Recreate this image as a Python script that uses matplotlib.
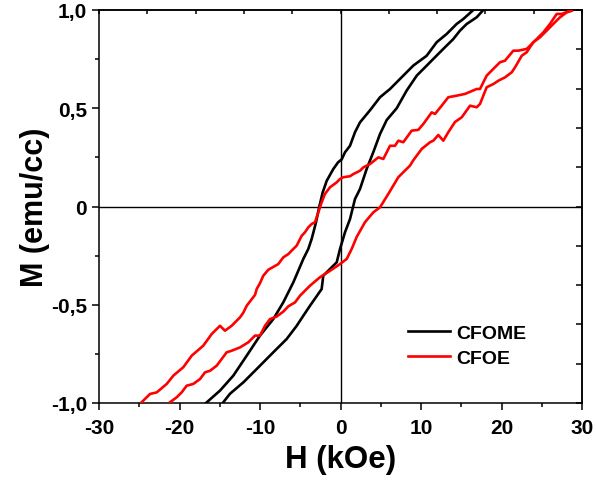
import numpy as np
import matplotlib
matplotlib.use("Agg")
import matplotlib.pyplot as plt
from matplotlib.ticker import MultipleLocator

plt.rcParams['font.family'] = ['Liberation Sans', 'DejaVu Sans']
plt.rcParams['font.weight'] = 'bold'
plt.rcParams['axes.unicode_minus'] = False

# ---- data: CFOME (black) ----
cfome_down_H = [16.50, 15.25, 14.43, 13.19, 11.95, 10.70, 9.04, 7.80, 6.15, 4.91, 3.67, 2.42, 1.80,
                1.18, 0.56, 0.15, -0.30, -0.89, -1.71, -2.21, -2.63, -3.04, -3.58, -4.00, -4.62,
                -5.86, -7.11, -8.35, -10.00, -11.65, -13.32, -14.97, -16.71]
cfome_down_M = [1.000, 0.954, 0.929, 0.878, 0.836, 0.767, 0.717, 0.666, 0.598, 0.556, 0.490, 0.428, 0.378,
                0.309, 0.276, 0.240, 0.225, 0.191, 0.131, 0.072, 0.000, -0.080, -0.165, -0.216, -0.267,
                -0.386, -0.488, -0.573, -0.657, -0.759, -0.861, -0.937, -1.000]
cfome_up_H = [-14.63, -13.73, -12.07, -10.41, -8.35, -6.68, -5.44, -4.62, -3.79, -2.34, -2.14, -0.47,
              -0.06, 0.56, 1.18, 1.80, 2.42, 3.25, 4.07, 4.91, 5.74, 6.98, 8.22, 9.47, 10.71, 11.53,
              12.77, 14.01, 14.84, 15.68, 16.92, 17.74]
cfome_up_M = [-1.000, -0.953, -0.895, -0.827, -0.742, -0.674, -0.607, -0.556, -0.505, -0.420, -0.352, -0.284,
              -0.216, -0.131, -0.064, 0.038, 0.089, 0.191, 0.276, 0.369, 0.440, 0.500, 0.590, 0.666, 0.717, 0.751,
              0.802, 0.852, 0.895, 0.929, 0.963, 1.000]

# ---- data: CFOE (red) ----
cfoe_down_H = [28.51, 27.48, 26.86, 26.02, 25.19, 24.37, 23.13, 22.09, 21.47, 20.43, 19.81, 18.98, 18.16,
               17.33, 16.92, 15.47, 14.43, 13.39, 12.57, 11.74, 11.33, 10.29, 9.66, 8.84, 7.80, 7.18,
               6.77, 6.15, 5.32, 4.70, 3.66, 2.83, 2.42, 1.59, 1.18, 0.35, -0.06, -0.47, -1.30, -1.93,
               -2.34, -2.76, -3.17, -3.58, -4.00, -4.41, -4.82, -5.44, -5.86, -6.48, -7.11, -7.73,
               -8.97, -9.59, -10.00, -10.41, -10.62, -11.65, -12.07, -12.48, -13.52, -14.35, -14.97,
               -16.00, -17.04, -18.48, -19.53, -20.77, -21.59, -22.83, -23.66, -24.70]
cfoe_down_M = [0.996, 0.980, 0.980, 0.929, 0.886, 0.852, 0.802, 0.793, 0.793, 0.742, 0.734, 0.700, 0.666,
               0.598, 0.598, 0.573, 0.564, 0.556, 0.513, 0.471, 0.479, 0.420, 0.390, 0.386, 0.327, 0.335,
               0.309, 0.309, 0.242, 0.250, 0.216, 0.199, 0.182, 0.165, 0.154, 0.149, 0.140, 0.123, 0.098, 0.064,
               0.021, -0.030, -0.080, -0.089, -0.106, -0.131, -0.149, -0.199, -0.216, -0.242, -0.259, -0.293,
               -0.322, -0.352, -0.390, -0.420, -0.450, -0.505, -0.540, -0.564, -0.607, -0.632, -0.607,
               -0.649, -0.708, -0.759, -0.818, -0.861, -0.903, -0.946, -0.954, -0.996]
cfoe_up_H = [-21.18, -20.35, -19.73, -19.11, -18.29, -17.45, -16.83, -16.21, -15.38, -14.76, -14.14,
             -13.52, -12.48, -11.45, -10.62, -10.00, -9.38, -8.76, -7.93, -7.11, -6.48, -5.65, -5.03,
             -3.79, -2.55, -1.30, -0.06, 0.77, 1.39, 2.01, 3.04, 4.07, 4.91, 5.94, 7.18, 8.63, 9.04,
             10.09, 11.12, 11.53, 12.15, 12.77, 13.39, 14.22, 15.06, 16.09, 16.92, 17.33, 18.16, 18.98,
             19.60, 20.43, 21.27, 21.68, 22.51, 23.13, 23.95, 24.78, 25.61, 26.43, 27.27, 28.10, 28.72]
cfoe_up_M = [-0.996, -0.971, -0.946, -0.912, -0.903, -0.878, -0.844, -0.836, -0.810, -0.776, -0.742,
             -0.734, -0.717, -0.691, -0.657, -0.657, -0.607, -0.573, -0.560, -0.535, -0.508, -0.488, -0.454,
             -0.403, -0.360, -0.327, -0.293, -0.267, -0.216, -0.155, -0.080, -0.030, -0.004, 0.064, 0.149, 0.208, 0.235,
             0.293, 0.327, 0.335, 0.364, 0.335, 0.378, 0.430, 0.454, 0.513, 0.505, 0.522, 0.607, 0.623,
             0.640, 0.657, 0.683, 0.708, 0.767, 0.785, 0.836, 0.861, 0.895, 0.929, 0.963, 0.988, 0.996]

x_ticks = [-30, -20, -10, 0, 10, 20, 30]
x_tick_labels = ['-30', '-20', '-10', '0', '10', '20', '30']
y_ticks = [-1.0, -0.5, 0.0, 0.5, 1.0]
y_tick_labels = ['-1,0', '-0,5', '0', '0,5', '1,0']
series_labels = ['CFOME', 'CFOE']
series_colors = ['#000000', '#ff0000']

fig = plt.figure(figsize=(5.96, 4.81), dpi=100)
ax = fig.add_axes([99/596, 1-404/481, (582-99)/596, (404-11)/481])

ax.axhline(0, color='k', lw=1.0, zorder=1)
ax.axvline(0, color='k', lw=1.0, zorder=1)

lw = 1.9
ax.plot(cfome_down_H, cfome_down_M, color=series_colors[0], lw=lw, zorder=3, label=series_labels[0])
ax.plot(cfome_up_H, cfome_up_M, color=series_colors[0], lw=lw, zorder=3)
ax.plot(cfoe_down_H, cfoe_down_M, color=series_colors[1], lw=lw, zorder=3, label=series_labels[1])
ax.plot(cfoe_up_H, cfoe_up_M, color=series_colors[1], lw=lw, zorder=3)

ax.set_xlim(-30, 30)
ax.set_ylim(-1, 1)
ax.set_xticks(x_ticks)
ax.set_xticklabels(x_tick_labels)
ax.set_yticks(y_ticks)
ax.set_yticklabels(y_tick_labels)
ax.xaxis.set_minor_locator(MultipleLocator(5))
ax.yaxis.set_minor_locator(MultipleLocator(0.25))
ax.tick_params(which='both', direction='out', width=1.1, top=False, right=False,
               labelsize=15)
ax.tick_params(which='major', length=5)
ax.tick_params(which='minor', length=3)
ax.tick_params(axis='x', pad=6)
ax.tick_params(axis='y', pad=3.5)
for s in ax.spines.values():
    s.set_linewidth(1.1)

secx = ax.secondary_xaxis('top')
secx.set_xticks(np.arange(-30, 31, 6))
secx.tick_params(direction='in', length=3, width=1.1, labeltop=False)
secx.spines['top'].set_linewidth(1.1)
secy = ax.secondary_yaxis('right')
secy.set_yticks(np.arange(-1, 1.01, 0.2))
secy.tick_params(direction='in', length=4, width=1.1, labelright=False)
secy.spines['right'].set_linewidth(1.1)

ax.set_xlabel('H (kOe)', fontsize=22.5, fontweight='bold', labelpad=5)
ax.set_ylabel('M (emu/cc)', fontsize=22, fontweight='bold', labelpad=1)

leg = ax.legend(loc='center left', bbox_to_anchor=(0.640, 0.147), frameon=False,
                fontsize=14, handlelength=2.16, handletextpad=0.3, labelspacing=0.38,
                borderpad=0, borderaxespad=0)
for t in leg.get_texts():
    t.set_fontweight('bold')

fig.savefig('out.png', dpi=100)
